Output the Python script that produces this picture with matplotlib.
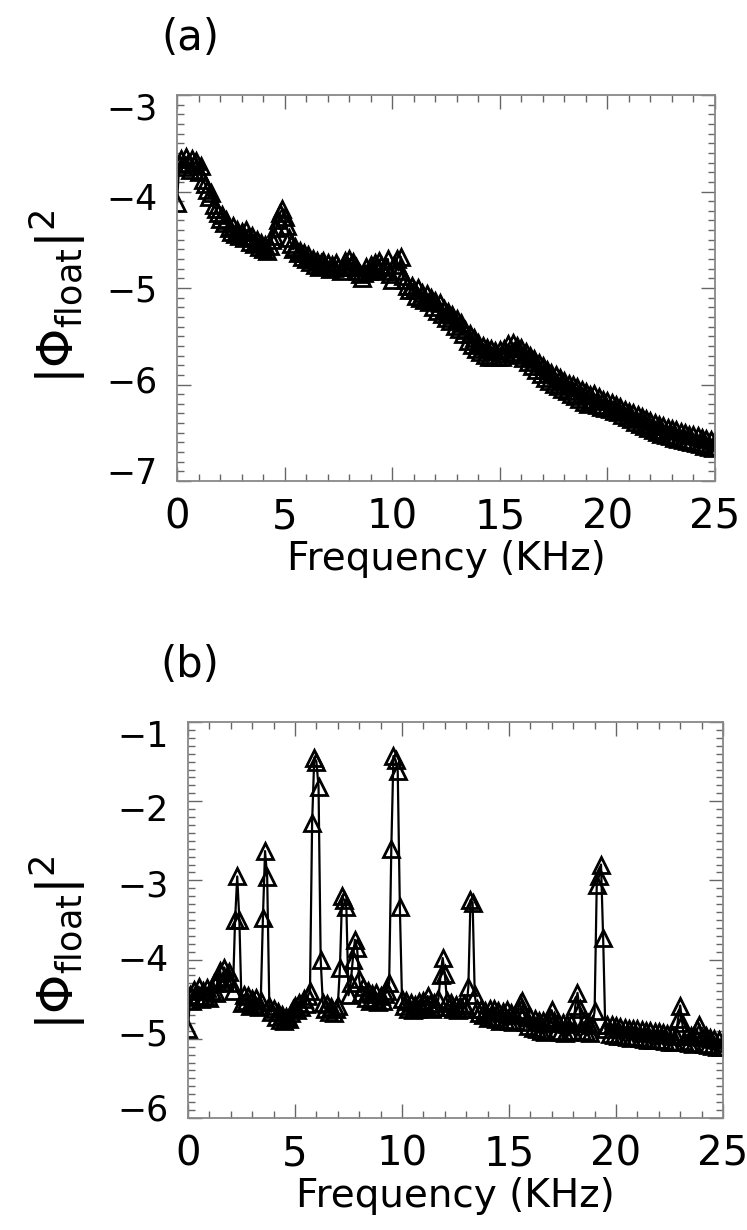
import numpy as np
import matplotlib
matplotlib.use("Agg")
import matplotlib.pyplot as plt
from matplotlib.ticker import MultipleLocator
from matplotlib.transforms import ScaledTranslation

plt.rcParams['font.family'] = ['DejaVu Sans']
plt.rcParams['mathtext.fontset'] = 'dejavusans'

# ── 数据：log10 功率谱，频率间隔 0.1 kHz ──
DF = 0.1

# (a) 每行 1 kHz
spec_a = [
    -4.12, -3.72, -3.66, -3.75, -3.64, -3.70, -3.78, -3.66, -3.72, -3.68,
    -3.80, -3.74, -3.88, -3.92, -3.98, -4.06, -4.02, -4.14, -4.18, -4.22,
    -4.28, -4.24, -4.33, -4.30, -4.38, -4.42, -4.36, -4.44, -4.40, -4.46,
    -4.42, -4.48, -4.40, -4.47, -4.52, -4.46, -4.54, -4.50, -4.57, -4.53,
    -4.60, -4.55, -4.62, -4.56, -4.50, -4.46, -4.38, -4.30, -4.22, -4.18,
    -4.26, -4.36, -4.48, -4.54, -4.60, -4.57, -4.64, -4.62, -4.68, -4.64,
    -4.70, -4.66, -4.73, -4.70, -4.76, -4.72, -4.78, -4.74, -4.72, -4.77,
    -4.74, -4.80, -4.76, -4.79, -4.74, -4.78, -4.82, -4.77, -4.72, -4.78,
    -4.70, -4.76, -4.73, -4.78, -4.82, -4.86, -4.90, -4.84, -4.78, -4.82,
    -4.76, -4.80, -4.74, -4.79, -4.72, -4.76, -4.82, -4.78, -4.70, -4.86,
    -4.92, -4.76, -4.70, -4.82, -4.68, -4.88, -4.92, -4.98, -5.02, -4.98,
    -5.02, -5.08, -5.00, -5.10, -5.05, -5.12, -5.06, -5.15, -5.10, -5.20,
    -5.13, -5.24, -5.16, -5.27, -5.22, -5.31, -5.25, -5.34, -5.28, -5.39,
    -5.32, -5.43, -5.36, -5.48, -5.44, -5.55, -5.48, -5.59, -5.52, -5.63,
    -5.57, -5.66, -5.60, -5.69, -5.62, -5.71, -5.63, -5.72, -5.65, -5.71,
    -5.64, -5.71, -5.63, -5.68, -5.58, -5.67, -5.57, -5.66, -5.60, -5.69,
    -5.62, -5.73, -5.66, -5.77, -5.70, -5.81, -5.74, -5.85, -5.78, -5.89,
    -5.81, -5.93, -5.85, -5.96, -5.88, -5.99, -5.90, -6.02, -5.93, -6.05,
    -5.96, -6.07, -5.99, -6.10, -6.01, -6.12, -6.03, -6.15, -6.06, -6.18,
    -6.08, -6.20, -6.11, -6.16, -6.10, -6.21, -6.13, -6.23, -6.16, -6.24,
    -6.17, -6.25, -6.19, -6.27, -6.21, -6.29, -6.23, -6.32, -6.26, -6.34,
    -6.28, -6.36, -6.30, -6.39, -6.32, -6.41, -6.34, -6.43, -6.36, -6.45,
    -6.38, -6.47, -6.40, -6.49, -6.42, -6.51, -6.43, -6.52, -6.45, -6.53,
    -6.46, -6.55, -6.47, -6.56, -6.49, -6.58, -6.50, -6.59, -6.52, -6.60,
    -6.52, -6.61, -6.53, -6.62, -6.55, -6.64, -6.56, -6.65, -6.57, -6.66,
    -6.60,
]

# (b) 每行 1 kHz
spec_b = [
    -4.88, -4.45, -4.52, -4.38, -4.47, -4.34, -4.50, -4.40, -4.46, -4.36,
    -4.48, -4.40, -4.30, -4.42, -4.24, -4.14, -4.28, -4.10, -4.22, -4.16,
    -4.30, -4.40, -3.50, -2.95, -3.50, -4.55, -4.45, -4.52, -4.46, -4.58,
    -4.50, -4.56, -4.48, -4.60, -4.52, -3.48, -2.63, -2.96, -4.58, -4.66,
    -4.62, -4.72, -4.66, -4.76, -4.70, -4.78, -4.72, -4.75, -4.68, -4.62,
    -4.58, -4.64, -4.55, -4.60, -4.50, -4.56, -4.46, -4.40, -2.27, -1.45,
    -1.50, -1.82, -4.00, -4.55, -4.62, -4.56, -4.66, -4.60, -4.68, -4.62,
    -4.58, -4.10, -3.20, -3.25, -3.34, -4.45, -4.30, -4.00, -3.75, -3.85,
    -4.25, -4.42, -4.35, -4.48, -4.40, -4.52, -4.44, -4.50, -4.42, -4.54,
    -4.46, -4.52, -4.44, -4.40, -4.30, -2.60, -1.43, -1.48, -1.62, -3.34,
    -4.50, -4.58, -4.52, -4.62, -4.55, -4.64, -4.57, -4.62, -4.54, -4.60,
    -4.52, -4.58, -4.46, -4.56, -4.62, -4.55, -4.60, -4.50, -4.20, -3.98,
    -4.18, -4.52, -4.60, -4.55, -4.62, -4.57, -4.64, -4.58, -4.62, -4.56,
    -4.62, -4.35, -3.25, -3.28, -4.45, -4.62, -4.68, -4.63, -4.70, -4.65,
    -4.74, -4.63, -4.72, -4.62, -4.75, -4.65, -4.77, -4.66, -4.76, -4.64,
    -4.77, -4.67, -4.79, -4.70, -4.64, -4.56, -4.52, -4.68, -4.79, -4.84,
    -4.73, -4.86, -4.75, -4.88, -4.77, -4.90, -4.78, -4.92, -4.80, -4.74,
    -4.64, -4.78, -4.90, -4.79, -4.92, -4.80, -4.93, -4.81, -4.92, -4.80,
    -4.90, -4.58, -4.42, -4.62, -4.90, -4.79, -4.92, -4.80, -4.93, -4.82,
    -4.65, -3.06, -2.95, -2.80, -3.73, -4.88, -4.82, -4.94, -4.83, -4.95,
    -4.84, -4.96, -4.85, -4.97, -4.86, -4.98, -4.87, -4.99, -4.88, -4.98,
    -4.87, -4.99, -4.89, -5.00, -4.90, -5.01, -4.90, -5.02, -4.91, -5.01,
    -4.92, -5.02, -4.93, -5.03, -4.94, -5.04, -4.95, -5.04, -4.96, -4.75,
    -4.58, -4.80, -5.03, -4.95, -5.05, -4.96, -5.06, -4.97, -4.88, -4.82,
    -4.98, -5.06, -4.97, -5.08, -4.99, -5.09, -5.00, -5.10, -5.01, -5.10,
    -5.05,
]

freq_a = np.arange(len(spec_a)) * DF
freq_b = np.arange(len(spec_b)) * DF

YLIM_A = (-7, -3)
YLIM_B = (-6, -1)


def setup_axes(ax, fig, ylim, label_x, label_y, shift_px):
    """IDL 风格的坐标轴：四边内向刻度。"""
    ax.set_xlim(0, 25)
    ax.set_ylim(*ylim)
    ax.xaxis.set_major_locator(MultipleLocator(5))
    ax.xaxis.set_minor_locator(MultipleLocator(1))
    ax.yaxis.set_major_locator(MultipleLocator(1))
    ax.yaxis.set_minor_locator(MultipleLocator(0.1))
    ax.tick_params(which='both', direction='in', top=True, right=True,
                   color='#666666', width=1.0)
    ax.tick_params(which='major', length=10)
    ax.tick_params(which='minor', length=5)
    ax.tick_params(axis='x', labelsize=29, pad=12)
    ax.tick_params(axis='y', labelsize=25, pad=14)
    for sp in ax.spines.values():
        sp.set_color('#888888')
        sp.set_linewidth(1.3)
    ax.set_xlabel('Frequency (KHz)', fontsize=28, labelpad=2)
    ax.set_ylabel(r'$|\Phi_{\rm float}|^2$', fontsize=36)
    ax.yaxis.set_label_coords(label_x, label_y)

    # 刻度标签比刻度本身略向中间收拢
    mid = 0.5 * (ylim[0] + ylim[1])
    locs = ax.get_yticks()
    for v, tick in zip(locs, ax.yaxis.get_major_ticks(len(locs))):
        dy = -(v - mid) * shift_px / 100.0
        tick.label1.set_transform(tick.label1.get_transform()
                                  + ScaledTranslation(0, dy, fig.dpi_scale_trans))


fig = plt.figure(figsize=(7.47, 12.3), dpi=100)

style = dict(color='k', lw=1.6, marker='^', ms=12, mfc='none', mec='k', mew=2.0)

ax_a = fig.add_axes([177 / 747, 1 - 481 / 1230, 538 / 747, 386 / 1230])
ax_a.plot(freq_a, spec_a, **style)
setup_axes(ax_a, fig, YLIM_A, -0.165, 0.477, 5.5)

ax_b = fig.add_axes([188 / 747, 1 - 1118 / 1230, 535 / 747, 396 / 1230])
ax_b.plot(freq_b, spec_b, **style)
setup_axes(ax_b, fig, YLIM_B, -0.187, 0.444, 4.5)

fig.text(190 / 747, 1 - 38 / 1230, '(a)', ha='center', va='center', fontsize=30)
fig.text(190 / 747, 1 - 665 / 1230, '(b)', ha='center', va='center', fontsize=30)

fig.savefig('out.png', dpi=100)
